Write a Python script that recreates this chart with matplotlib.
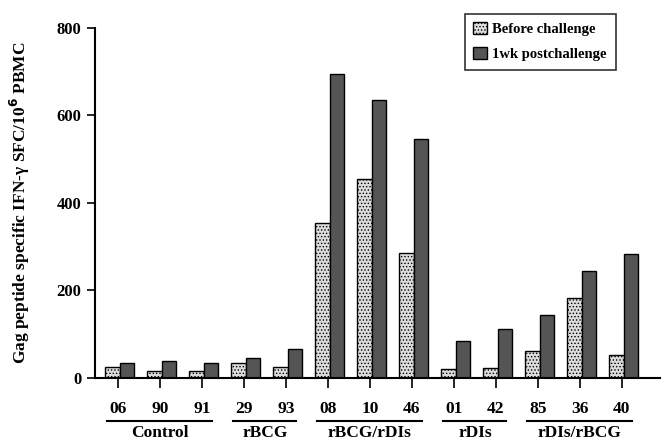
import matplotlib.pyplot as plt
import matplotlib.transforms as mtransforms
import numpy as np

plt.rcParams['font.family'] = ['Liberation Serif', 'DejaVu Serif']
plt.rcParams['font.weight'] = 'bold'
plt.rcParams['hatch.color'] = '#777777'
plt.rcParams['hatch.linewidth'] = 0.6

# animal ids and groups
animals = ['06', '90', '91', '29', '93', '08', '10', '46', '01', '42', '85', '36', '40']
groups = ['Control', 'rBCG', 'rBCG/rDIs', 'rDIs', 'rDIs/rBCG']
group_sizes = [3, 2, 3, 2, 3]

before = [25, 15, 15, 33, 25, 355, 455, 285, 20, 22, 62, 182, 52]
after = [35, 38, 35, 45, 65, 695, 635, 545, 85, 112, 143, 245, 283]

fig = plt.figure(figsize=(6.63, 4.43), dpi=100)
ax = fig.add_axes([0.143, 0.147, 0.852, 0.79])

x = np.arange(len(animals))
w = 0.34
ax.bar(x - w / 2 + 0.04, before, w, color='#dcdcdc', edgecolor='black', linewidth=1.0,
       hatch='.....', label='Before challenge')
ax.bar(x + w / 2 + 0.04, after, w, color='#555555', edgecolor='black', linewidth=1.0,
       label='1wk postchallenge')

ax.set_xlim(-0.55, 12.9)
ax.set_ylim(0, 800)
ax.set_yticks([0, 200, 400, 600, 800])
ax.set_xticks(x)
ax.set_xticklabels(animals, fontsize=12.5, fontweight='bold')
ax.tick_params(axis='y', labelsize=12, width=1.2, length=6, direction='out')
ax.tick_params(axis='x', width=1.2, length=7, direction='out', pad=10)
ax.spines['top'].set_visible(False)
ax.spines['right'].set_visible(False)
ax.spines['left'].set_linewidth(1.5)
ax.spines['bottom'].set_linewidth(1.5)

ax.set_ylabel('Gag peptide specific IFN-\u03b3 SFC/10$^{\\mathbf{6}}$ PBMC', fontsize=12.5,
              fontweight='bold', labelpad=18)

# group labels with underline
trans = mtransforms.blended_transform_factory(ax.transData, ax.transAxes)
start = 0
for name, n in zip(groups, group_sizes):
    x0, x1 = start - 0.25, start + n - 1 + 0.25
    ax.plot([x0, x1], [-0.123, -0.123], color='black', linewidth=1.5,
            transform=trans, clip_on=False)
    ax.text((x0 + x1) / 2, -0.158, name, transform=trans, ha='center', va='center',
            fontsize=12.5, fontweight='bold')
    start += n

leg = ax.legend(loc='upper right', bbox_to_anchor=(0.935, 1.062), fontsize=10.5,
                frameon=True, fancybox=False, edgecolor='black', handlelength=0.9,
                handleheight=0.9, borderpad=0.6, labelspacing=0.75, handletextpad=0.4)
leg.get_frame().set_linewidth(1.2)

fig.savefig('out.png', dpi=100)
